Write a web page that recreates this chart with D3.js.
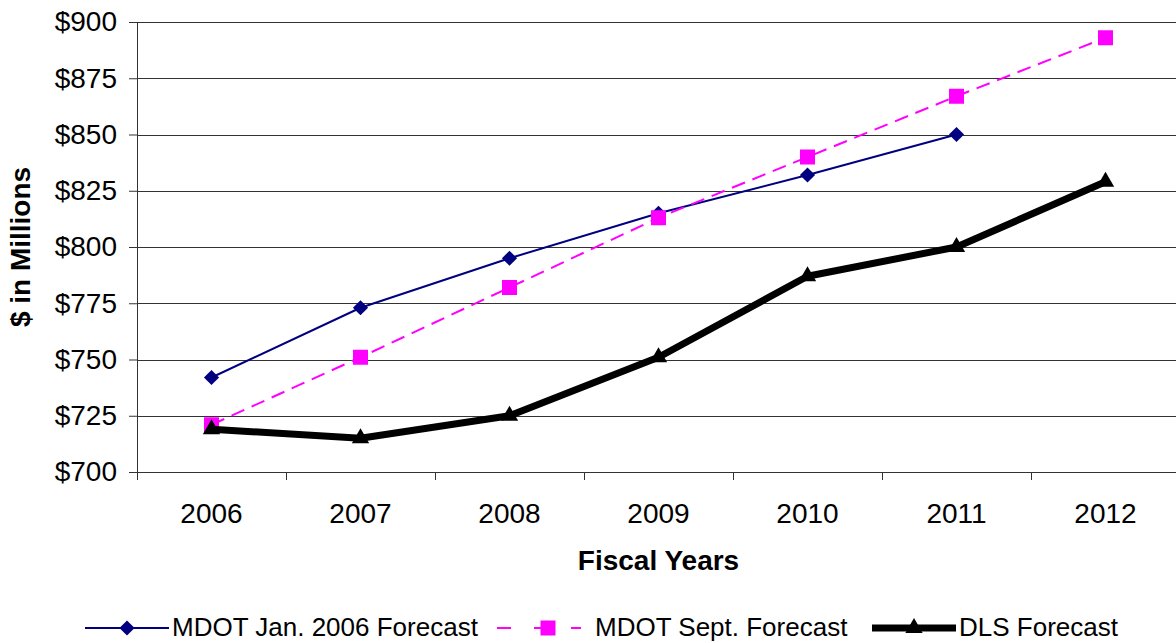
<!DOCTYPE html>
<html>
<head>
<meta charset="utf-8">
<script src="https://cdn.jsdelivr.net/npm/d3@7"></script>
<style>
  body { margin: 0; background: #fff; }
  svg { display: block; font-family: "Liberation Sans", Arial, sans-serif; }
</style>
</head>
<body>
<div id="chart"></div>
<script>
// data
var years = ["2006", "2007", "2008", "2009", "2010", "2011", "2012"];
var janForecast = [742, 773, 795, 815, 832, 850, null];
var septForecast = [721, 751, 782, 813, 840, 867, 893];
var dlsForecast = [719, 715, 725, 751, 787, 800, 829];
var yTicks = [700, 725, 750, 775, 800, 825, 850, 875, 900];
var seriesNames = ["MDOT Jan. 2006 Forecast", "MDOT Sept. Forecast", "DLS Forecast"];

var width = 1176, height = 643;
var margin = { top: 22, right: -4, bottom: 171, left: 137 };
var fontSize = 28;

var svg = d3.select("#chart").append("svg")
  .attr("width", width)
  .attr("height", height);

var g = svg.append("g")
  .attr("transform", "translate(" + margin.left + "," + margin.top + ")");

var innerW = width - margin.left - margin.right;
var innerH = height - margin.top - margin.bottom;

var xScale = d3.scaleBand().domain(years).range([0, innerW]);
var yScale = d3.scaleLinear().domain([700, 900]).range([innerH, 0]);

// gridlines
g.selectAll(".grid")
  .data(yTicks)
  .enter()
  .append("line")
  .attr("class", "grid")
  .attr("x1", 0)
  .attr("x2", innerW)
  .attr("y1", function (d) { return Math.round(yScale(d)) + 0.5; })
  .attr("y2", function (d) { return Math.round(yScale(d)) + 0.5; })
  .attr("stroke", "#333")
  .attr("stroke-width", 1);

// y axis
var yAxis = g.append("g")
  .call(d3.axisLeft(yScale).tickValues(yTicks).tickSize(8).tickPadding(12)
    .tickFormat(function (d) { return "$" + d; }));
yAxis.select(".domain").attr("stroke", "#333");
yAxis.selectAll("line").attr("stroke", "#333");
yAxis.selectAll("text").attr("font-size", fontSize).attr("fill", "#000")
  .attr("font-family", "Liberation Sans, Arial, sans-serif");

// x axis, ticks on the band edges
var xAxis = g.append("g")
  .attr("transform", "translate(0," + innerH + ")")
  .call(d3.axisBottom(xScale).tickSize(0).tickPadding(31));
xAxis.select(".domain").remove();
xAxis.selectAll("text").attr("font-size", fontSize).attr("fill", "#000")
  .attr("font-family", "Liberation Sans, Arial, sans-serif");
g.selectAll(".xtick")
  .data(years)
  .enter()
  .append("line")
  .attr("x1", function (d) { return Math.round(xScale(d)) + 0.5; })
  .attr("x2", function (d) { return Math.round(xScale(d)) + 0.5; })
  .attr("y1", innerH)
  .attr("y2", innerH + 8)
  .attr("stroke", "#333");

// axis titles
svg.append("text")
  .attr("x", margin.left + xScale.step() * 3.5)
  .attr("y", 570)
  .attr("text-anchor", "middle")
  .attr("font-size", fontSize)
  .attr("font-weight", "bold")
  .text("Fiscal Years");

svg.append("text")
  .attr("transform", "translate(30," + (margin.top + innerH / 2) + ") rotate(-90)")
  .attr("text-anchor", "middle")
  .attr("font-size", fontSize)
  .attr("font-weight", "bold")
  .text("$ in Millions");

var cx = function (i) { return xScale(years[i]) + xScale.bandwidth() / 2; };

function toPoints(vals) {
  return vals.map(function (v, i) { return { i: i, v: v }; })
    .filter(function (p) { return p.v != null; });
}

var line = d3.line()
  .x(function (p) { return cx(p.i); })
  .y(function (p) { return yScale(p.v); });

var series = [
  { name: seriesNames[0], vals: janForecast, color: "#000080", width: 2, dash: null, shape: d3.symbolSquare, size: 115, rot: 45 },
  { name: seriesNames[1], vals: septForecast, color: "#ff00ff", width: 2, dash: "14,8", shape: d3.symbolSquare, size: 225, rot: 0 },
  { name: seriesNames[2], vals: dlsForecast, color: "#000000", width: 7, dash: null, shape: d3.symbolTriangle, size: 130, rot: 0 }
];

series.forEach(function (s) {
  var pts = toPoints(s.vals);
  g.append("path")
    .datum(pts)
    .attr("fill", "none")
    .attr("stroke", s.color)
    .attr("stroke-width", s.width)
    .attr("stroke-dasharray", s.dash)
    .attr("stroke-linejoin", "round")
    .attr("d", line);
  g.selectAll(null)
    .data(pts)
    .enter()
    .append("path")
    .attr("transform", function (p) {
      return "translate(" + cx(p.i) + "," + yScale(p.v) + ") rotate(" + s.rot + ")";
    })
    .attr("d", d3.symbol().type(s.shape).size(s.size))
    .attr("fill", s.color);
});

// legend
var legendX = [85, 497, 872];
var legendY = 628;
series.forEach(function (s, k) {
  var lg = svg.append("g").attr("transform", "translate(" + legendX[k] + "," + legendY + ")");
  lg.append("line")
    .attr("x1", 0).attr("x2", 84)
    .attr("y1", 0).attr("y2", 0)
    .attr("stroke", s.color)
    .attr("stroke-width", s.width)
    .attr("stroke-dasharray", k == 1 ? "14,23,14,23" : null);
  lg.append("path")
    .attr("transform", "translate(" + (k == 1 ? 51 : 42) + ",0) rotate(" + s.rot + ")")
    .attr("d", d3.symbol().type(s.shape).size(s.size))
    .attr("fill", s.color);
  lg.append("text")
    .attr("x", k == 1 ? 98 : 87)
    .attr("y", 8)
    .attr("font-size", 26)
    .text(s.name);
});
</script>
</body>
</html>
